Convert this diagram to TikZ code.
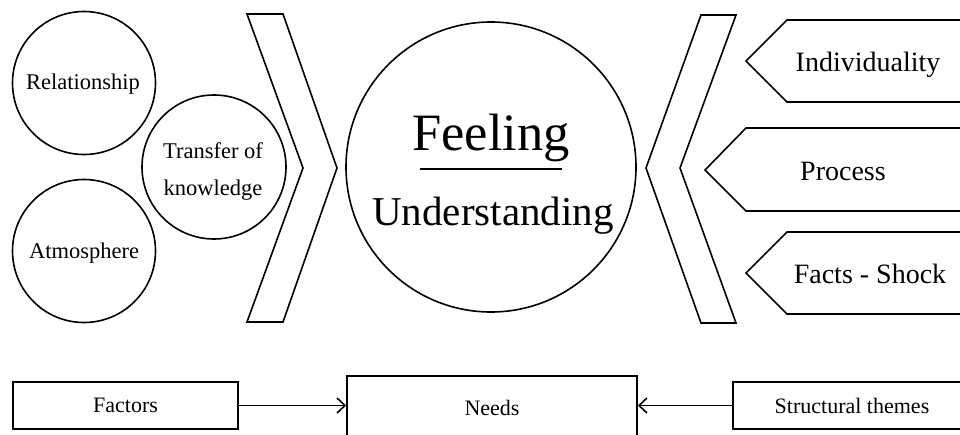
\documentclass[tikz,border=0pt]{standalone}
\usepackage{fontspec}
\setmainfont{Liberation Serif}
\usetikzlibrary{arrows.meta}
\begin{document}
\begin{tikzpicture}[x=1pt,y=-1pt,line width=1.6pt,
  ring/.style={draw,circle,inner sep=0pt},
  lbl/.style={anchor=base,inner sep=0pt},
  small/.style={font=\fontsize{22.5}{27}\selectfont},
  mid/.style={font=\fontsize{28}{33}\selectfont},
  boxnode/.style={draw,rectangle,inner sep=0pt,font=\fontsize{22}{26}\selectfont},
  link/.style={-{Straight Barb[length=8pt,width=15pt]}}]
\useasboundingbox (0,0) rectangle (960,434);
\clip (0,0) rectangle (960,434);
% left circles
\node[ring,minimum size=143pt] (rel) at (84,83) {};
\node[ring,minimum size=143pt] (atm) at (84,251) {};
\node[ring,minimum size=144pt] (tk) at (214,167) {};
\node[lbl,small] (relt) at (83,89) {Relationship};
\node[lbl,small] (atmt) at (84,258) {Atmosphere};
\node[lbl,small] (tkt1) at (213,158) {Transfer of};
\node[lbl,small] (tkt2) at (213,195) {knowledge};
% chevrons
\draw[line join=miter] (247,14) -- (283,14) -- (337,168) -- (283,322) -- (247,322) -- (303,168) -- cycle;
\draw[line join=miter] (701,15) -- (736,15) -- (680,168) -- (736,323) -- (701,323) -- (646,168) -- cycle;
% core circle
\node[ring,minimum size=290pt] (core) at (491,167) {};
\node[lbl,font=\fontsize{52.5}{60}\selectfont] (feel) at (491,150) {Feeling};
\coordinate (ul1) at (420,169);
\coordinate (ul2) at (562,169);
\draw[line width=1.3pt] (ul1) -- (ul2);
\node[lbl,font=\fontsize{41}{48}\selectfont] (und) at (493,225) {Understanding};
% pentagons
\draw[line join=miter] (968,20) -- (787,20) -- (746,61) -- (787,102) -- (968,102);
\draw[line join=miter] (968,128) -- (746,128) -- (705,170) -- (746,211) -- (968,211);
\draw[line join=miter] (968,232) -- (787,232) -- (746,273) -- (787,314) -- (968,314);
\node[lbl,mid] (ind) at (868,71) {Individuality};
\node[lbl,mid] (proc) at (843,180) {Process};
\node[lbl,mid] (facts) at (870,283) {Facts - Shock};
% bottom row
\node[boxnode,minimum width=225pt,minimum height=47pt] (fac) at (125.5,405.5) {Factors};
\node[boxnode,minimum width=290pt,minimum height=64pt] (needs) at (492,408) {Needs};
\node[boxnode,minimum width=238pt,minimum height=47pt] (st) at (852,405.5) {Structural themes};
\draw[link] (fac.east) -- (fac.east -| needs.west);
\draw[link] (st.west) -- (st.west -| needs.east);
\end{tikzpicture}
\end{document}
